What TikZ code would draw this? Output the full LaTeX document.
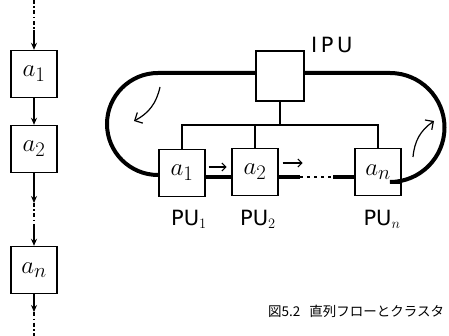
\documentclass[tikz,border=0pt]{standalone}
\usepackage{fontspec}
\setsansfont{DejaVu Sans}
\newfontfamily\jpfont{Noto Sans CJK JP}
\usetikzlibrary{arrows.meta}
\begin{document}
\begin{tikzpicture}[x=1pt,y=-1pt,
  box/.style={draw,line width=1.4pt,minimum width=46pt,minimum height=47pt,inner sep=0pt,font=\fontsize{30}{30}\selectfont},
  thin/.style={line width=1.3pt},
  thick loop/.style={line width=4pt},
  dotline/.style={line width=1.3pt,dash pattern=on 4pt off 2.5pt on 1.5pt off 2.5pt},
  arr/.style={-{Stealth[length=7pt,width=6pt]},line width=1.3pt},
  lbl/.style={font=\sffamily\fontsize{21}{22}\selectfont,inner sep=0pt}]
\useasboundingbox (0,0) rectangle (449,336);
% left column
\node[box] (l1) at (34,74) {$a_1$};
\node[box] (l2) at (34,149) {$a_2$};
\node[box] (ln) at (34,270) {$a_n$};
\coordinate (t0) at (34,0);
\coordinate (t1) at (34,30);
\coordinate (m1) at (34,203);
\coordinate (m2) at (34,228);
\coordinate (b1) at (34,312);
\coordinate (b0) at (34,336);
\draw[dotline] (t0) -- (t1);
\draw[arr] (t1) -- (l1.north);
\draw[arr] (l1.south) -- (l2.north);
\draw[arr] (l2.south) -- (m1);
\draw[dotline] (m1) -- (m2);
\draw[arr] (m2) -- (ln.north);
\draw[arr] (ln.south) -- (b1);
\draw[dotline] (b1) -- (b0);
% right diagram
\node[draw,line width=1.3pt,minimum width=48pt,minimum height=50pt,inner sep=0pt] (ipu) at (280,76) {};
\node[lbl,anchor=west] (ipul) at (311,45) {I\,P\,U};
\node[box] (p1) at (182,173) {$a_1$};
\node[box] (p2) at (255,172) {$a_2$};
\node[box] (pn) at (378,172) {$a_n$};
\node[lbl] (q1) at (189,219) {PU$_1$};
\node[lbl] (q2) at (258,219) {PU$_2$};
\node[lbl] (qn) at (382,219) {PU$_n$};
% loop
\draw[thick loop] (ipu.west |- 0,73) -- (158,73) arc[start angle=270,end angle=90,radius=51] -- (p1.west |- 0,175);
\draw[thick loop] (ipu.east |- 0,73) -- (390,73) arc[start angle=-90,end angle=90,radius=54.5] -- (pn.east |- 0,182);
\draw[thick loop] (p1.east |- 0,177) -- (p2.west |- 0,177);
\coordinate (d1) at (300,177);
\coordinate (d2) at (333,177);
\draw[thick loop] (p2.east |- 0,177) -- (d1);
\draw[line width=2pt,dash pattern=on 3pt off 4pt] (d1) -- (d2);
\draw[thick loop] (d2) -- (pn.west |- 0,177);
% bus
\coordinate (bus) at (280,125);
\draw[thin] (ipu.south) -- (bus);
\draw[thin] (p1.north) -- (182,125) -- (pn.north |- 0,125) -- (pn.north);
\draw[thin] (p2.north) -- (255,125);
% small arrows
\draw[-{Straight Barb[length=4pt]},line width=1.2pt] (p1.east |- 0,167) ++(3,0) -- ++(18,0);
\draw[-{Straight Barb[length=4pt]},line width=1.2pt] (p2.east |- 0,163) ++(4,0) -- ++(20,0);
% curved arrows
\draw[-{Straight Barb[length=6pt]},line width=1.2pt] (160,87) to[bend left=25] (134,121);
\draw[-{Straight Barb[length=6pt]},line width=1.2pt] (413,157) to[bend left=25] (434,121);
% caption
\node[font=\jpfont\fontsize{13.5}{15}\selectfont,anchor=west,inner sep=0pt] (cap) at (268,311) {図5.2\hspace{9pt}直列フローとクラスタ};
\end{tikzpicture}
\end{document}
